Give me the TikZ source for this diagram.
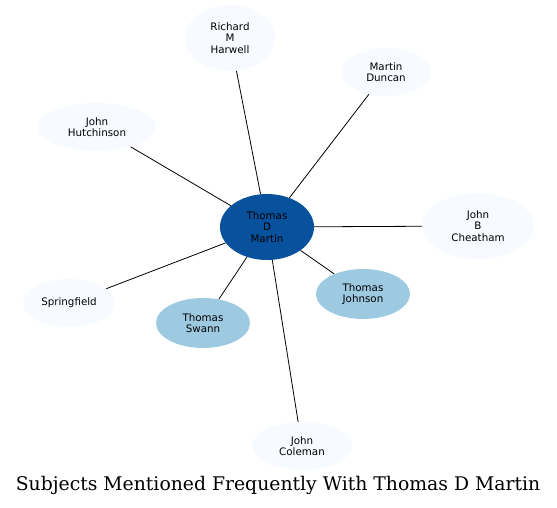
\documentclass[tikz,border=0pt]{standalone}
\usepackage{fontspec}
\setmainfont{DejaVu Serif}
\setsansfont{DejaVu Sans}
\usetikzlibrary{shapes.geometric}
\definecolor{hub}{HTML}{08519C}
\definecolor{mid}{HTML}{9ECAE1}
\definecolor{pale}{HTML}{F7FBFF}
\tikzset{
  ent/.style={ellipse, inner sep=0pt, align=center, font=\sffamily\fontsize{10.3}{11.5}\selectfont, text=black},
  paleent/.style={ent, fill=pale},
  mident/.style={ent, fill=mid},
  hubent/.style={ent, fill=hub},
  link/.style={draw=black, line width=0.8pt}
}
\begin{document}
\begin{tikzpicture}[x=1pt,y=-1pt]
\useasboundingbox (0,0) rectangle (557,507);
\node[hubent, minimum width=94pt, minimum height=66pt] (tdm) at (267,227) {Thomas\\D\\Martin};
\node[paleent, minimum width=90pt, minimum height=66pt] (rmh) at (230,38) {Richard\\M\\Harwell};
\node[paleent, minimum width=90pt, minimum height=48pt] (md) at (386,72) {Martin\\Duncan};
\node[paleent, minimum width=118pt, minimum height=48pt] (jh) at (97,127) {John\\Hutchinson};
\node[paleent, minimum width=112pt, minimum height=66pt] (jbc) at (478,226) {John\\B\\Cheatham};
\node[paleent, minimum width=92pt, minimum height=48pt] (sp) at (69,303) {Springfield};
\node[mident, minimum width=94pt, minimum height=50pt] (ts) at (203,323) {Thomas\\Swann};
\node[mident, minimum width=94pt, minimum height=50pt] (tj) at (363,294) {Thomas\\Johnson};
\node[paleent, minimum width=100pt, minimum height=48pt] (jc) at (302,446) {John\\Coleman};
\foreach \n in {rmh,md,jh,jbc,sp,ts,tj,jc} \draw[link] (tdm) -- (\n);
\node[font=\fontsize{18.8}{22}\selectfont] (title) at (278,485) {Subjects Mentioned Frequently With Thomas D Martin};
\end{tikzpicture}
\end{document}
